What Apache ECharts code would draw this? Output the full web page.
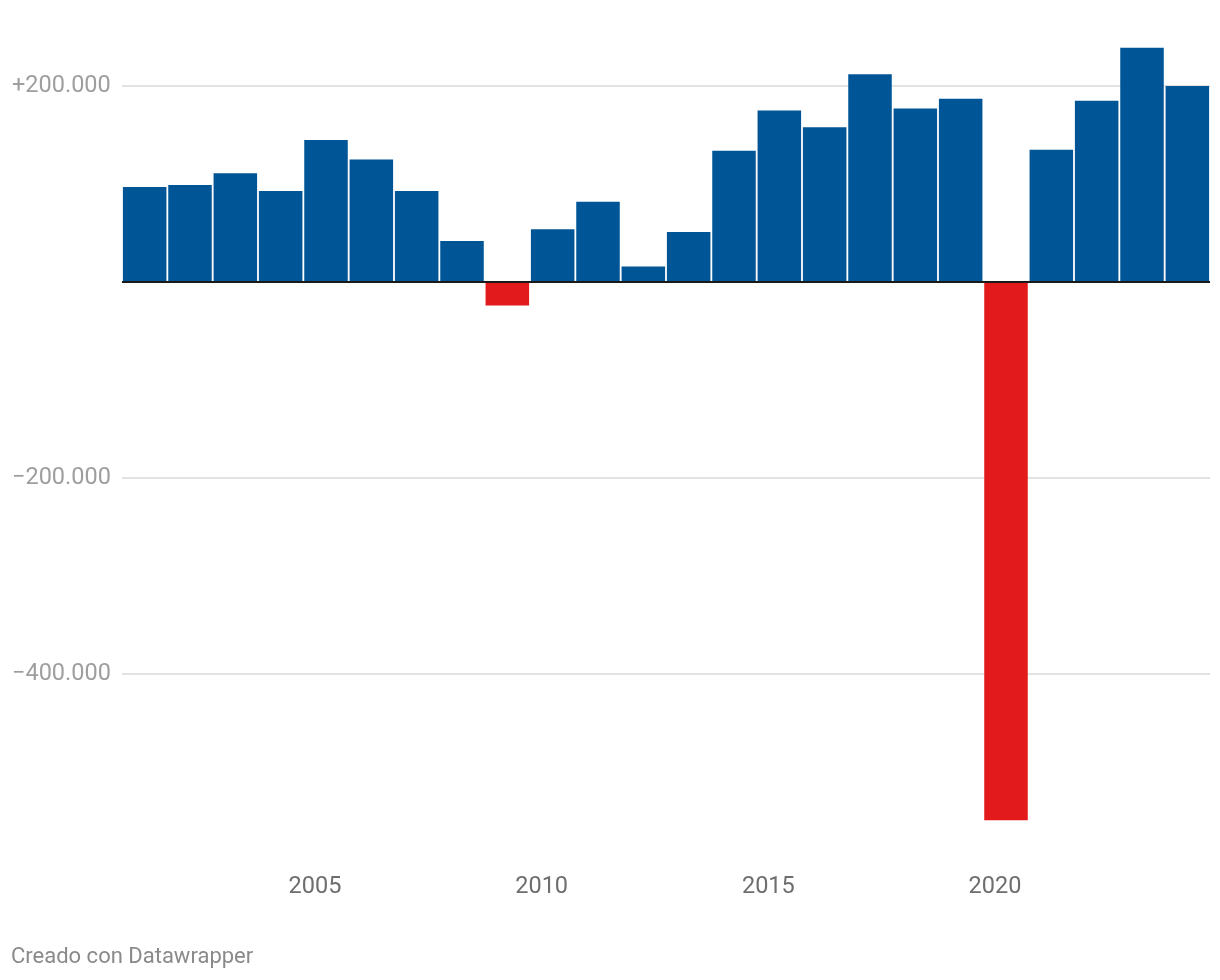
<!DOCTYPE html>
<html>
<head>
<meta charset="utf-8">
<script src="https://cdn.jsdelivr.net/npm/echarts@6/dist/echarts.min.js"></script>
<style>
  html, body { margin: 0; padding: 0; background: #ffffff; }
  #chart { width: 1220px; height: 980px; }
</style>
</head>
<body>
<div id="chart"></div>
<script>
const years = ['2001','2002','2003','2004','2005','2006','2007','2008','2009','2010','2011','2012',
               '2013','2014','2015','2016','2017','2018','2019','2020','2021','2022','2023','2024'];
const values = [97000, 99000, 111000, 93000, 145000, 125000, 93000, 42000, -24000, 54000, 82000, 16000,
                51000, 134000, 175000, 158000, 212000, 177000, 187000, -549000, 135000, 185000, 239000, 200000];
const xTickLabels = ['2005', '2010', '2015', '2020'];
const yTickValues = [-400000, -200000, 200000];
const yTickLabels = ['\u2212400.000', '\u2212200.000', '+200.000'];

const chart = echarts.init(document.getElementById('chart'), null, { renderer: 'canvas' });
const font = 'Roboto, "Noto Sans", sans-serif';

chart.setOption({
  animation: false,
  backgroundColor: '#ffffff',
  grid: { left: 122, right: 10, top: 37, bottom: 149 },
  xAxis: {
    type: 'category',
    data: years,
    axisLine: { show: false },
    axisTick: { show: false },
    splitLine: { show: false },
    axisLabel: {
      interval: 0,
      margin: 44,
      padding: [0, 22, 0, 0],
      color: '#6e6e6e',
      fontFamily: font,
      fontSize: 23.5,
      formatter: function (v) { return xTickLabels.indexOf(v) >= 0 ? v : ''; }
    }
  },
  yAxis: {
    type: 'value',
    min: -560000,
    max: 250000,
    axisLine: { show: false },
    axisTick: { show: false, customValues: yTickValues },
    splitLine: { show: true, lineStyle: { color: '#e3e3e3', width: 2 } },
    axisLabel: {
      customValues: yTickValues,
      margin: 110,
      align: 'left',
      color: '#9e9e9e',
      fontFamily: font,
      fontSize: 23.5,
      formatter: function (v) {
        const i = yTickValues.indexOf(v);
        return i >= 0 ? yTickLabels[i] : '';
      }
    }
  },
  series: [{
    type: 'bar',
    data: values,
    barCategoryGap: '4%',
    itemStyle: {
      color: function (p) { return p.value < 0 ? '#e31a1c' : '#005596'; }
    },
    markLine: {
      silent: true,
      symbol: ['none', 'none'],
      label: { show: false },
      lineStyle: { color: '#1a1a1a', width: 2, type: 'solid' },
      data: [{ yAxis: 0 }]
    }
  }],
  graphic: [{
    type: 'text',
    left: 11,
    top: 946,
    style: {
      text: 'Creado con Datawrapper',
      fill: '#8a8a8a',
      font: '22px ' + font
    }
  }]
});
</script>
</body>
</html>
